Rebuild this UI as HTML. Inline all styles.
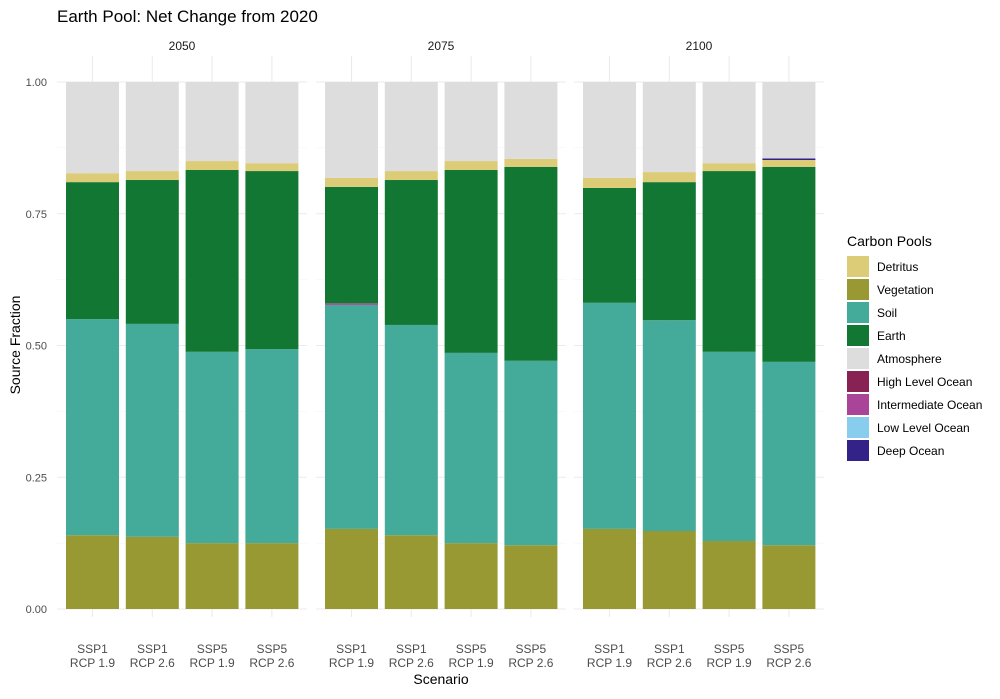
<!DOCTYPE html>
<html><head><meta charset="utf-8"><style>
body{margin:0;background:#fff;font-family:"Liberation Sans",Arial,sans-serif}
svg text{font-family:"Liberation Sans",Arial,sans-serif}
</style></head><body>
<svg id="c" width="1000" height="694" xmlns="http://www.w3.org/2000/svg"></svg>
<script>
const panels=["2050","2075","2100"];
const scenarios=["SSP1|RCP 1.9","SSP1|RCP 2.6","SSP5|RCP 1.9","SSP5|RCP 2.6"];
const vegetation=[0.140,0.137,0.125,0.125, 0.152,0.140,0.125,0.121, 0.152,0.148,0.129,0.121];
const soil=[0.410,0.404,0.363,0.368, 0.425,0.399,0.361,0.350, 0.429,0.400,0.359,0.348];
const intermediateOcean=[0,0,0,0, 0.003,0,0,0, 0,0,0,0];
const earth=[0.260,0.273,0.345,0.338, 0.221,0.275,0.347,0.368, 0.218,0.262,0.343,0.370];
const detritus=[0.017,0.017,0.017,0.015, 0.017,0.017,0.017,0.015, 0.019,0.019,0.015,0.013];
const deepOcean=[0,0,0,0, 0,0,0,0, 0,0,0,0.003];
const yTicks=[0,0.25,0.5,0.75,1];
const yTickLabels=["0.00","0.25","0.50","0.75","1.00"];
const legendNames=["Detritus","Vegetation","Soil","Earth","Atmosphere","High Level Ocean","Intermediate Ocean","Low Level Ocean","Deep Ocean"];
const legendColors=["#DDCC77","#999933","#44AA99","#117733","#DDDDDD","#882255","#AA4499","#88CCEE","#332288"];

const svg=document.getElementById('c');
const NS="http://www.w3.org/2000/svg";
function el(t,a,txt){const e=document.createElementNS(NS,t);for(const k in a)e.setAttribute(k,a[k]);if(txt!=null)e.textContent=txt;svg.appendChild(e);return e;}
const y0=609,y1=82;
const Y=v=>y0-(y0-y1)*v;
const panelX=[57,316,574], panelW=250;
const barW=53, barStep=59.8, barOff=9;
const X=(p,i)=>panelX[p]+barOff+i*barStep;

let t=el('text',{x:57,y:22,'font-size':17,fill:'#000'},'Earth Pool: Net Change from 2020');


panels.forEach((pn,p)=>{
  [0.125,0.375,0.625,0.875].forEach(v=>{let g=el('line',{x1:panelX[p],x2:panelX[p]+panelW,y1:Y(v),y2:Y(v),stroke:'#f3f3f3','stroke-width':0.6});});
  yTicks.forEach(v=>{let g=el('line',{x1:panelX[p],x2:panelX[p]+panelW,y1:Y(v),y2:Y(v),stroke:'#ebebeb','stroke-width':1.1});});
  scenarios.forEach((s,i)=>{let cx=X(p,i)+barW/2;let g=el('line',{x1:cx,x2:cx,y1:56,y2:y0+8,stroke:'#ebebeb','stroke-width':1.1});});
  let st=el('text',{x:panelX[p]+panelW/2,y:50,'text-anchor':'middle','font-size':12,fill:'#1a1a1a'},pn);
  
});
panels.forEach((pn,p)=>{
  scenarios.forEach((s,i)=>{
    const k=p*4+i;
    const segs=[[vegetation[k],'#999933','vegetation'],[soil[k],'#44AA99','soil'],[intermediateOcean[k],'#AA4499','intermediate-ocean'],[earth[k],'#117733','earth'],[detritus[k],'#DDCC77','detritus'],[deepOcean[k],'#332288','deep-ocean']];
    let acc=0;const x=X(p,i);
    segs.forEach(([v,c,n])=>{
      if(v<=0)return;
      let r=el('rect',{x:x,y:Y(acc+v),width:barW,height:Y(acc)-Y(acc+v),fill:c});
      
      acc+=v;
    });
    let r=el('rect',{x:x,y:Y(1),width:barW,height:Y(acc)-Y(1),fill:'#DDDDDD'});
    
    const [a,b]=s.split('|');
    let l1=el('text',{x:x+barW/2,y:653,'text-anchor':'middle','font-size':12,fill:'#4d4d4d'},a);
    
    let l2=el('text',{x:x+barW/2,y:667,'text-anchor':'middle','font-size':12,fill:'#4d4d4d'},b);
    
  });
});
yTicks.forEach((v,i)=>{let tl=el('text',{x:47,y:Y(v)+4,'text-anchor':'end','font-size':11,fill:'#4d4d4d'},yTickLabels[i]);});
let ya=el('text',{x:0,y:0,'font-size':14,fill:'#000','text-anchor':'middle',transform:'translate(20,345) rotate(-90)'},'Source Fraction');

let xa=el('text',{x:441,y:684,'font-size':14,fill:'#000','text-anchor':'middle'},'Scenario');

let lt=el('text',{x:847,y:246,'font-size':14,fill:'#000'},'Carbon Pools');

legendNames.forEach((n,i)=>{
  let yy=256+i*23;
  let r=el('rect',{x:847,y:yy,width:22,height:21,fill:legendColors[i]});
  
  let tx=el('text',{x:877,y:yy+15,'font-size':12,fill:'#000'},n);
  
});
</script>
</body></html>
